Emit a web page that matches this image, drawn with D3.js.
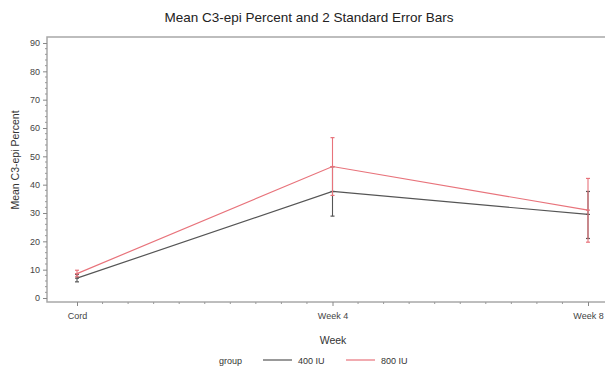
<!DOCTYPE html>
<html>
<head>
<meta charset="utf-8">
<script src="https://cdn.jsdelivr.net/npm/d3@7"></script>
<style>
  body { margin: 0; background: #fff; }
  text { font-family: "Liberation Sans", Arial, sans-serif; }
</style>
</head>
<body>
<div id="chart"></div>
<script>
const weeks = ["Cord", "Week 4", "Week 8"];
const groups = ["400 IU", "800 IU"];
const mean400 = [7.0, 37.6, 29.5];
const lower400 = [5.7, 28.9, 21.0];
const upper400 = [8.3, 46.3, 37.6];
const mean800 = [8.6, 46.4, 31.0];
const lower800 = [7.5, 36.2, 19.7];
const upper800 = [9.8, 56.6, 42.2];
const yTicks = [0, 10, 20, 30, 40, 50, 60, 70, 80, 90];

const colors = { "400 IU": "#555555", "800 IU": "#e8737b" };

const width = 605, height = 366;
const svg = d3.select("#chart")
    .append("svg")
    .attr("width", width)
    .attr("height", height);

const plotLeft = 47, plotTop = 37, plotBottom = 302;

const xScale = d3.scaleLinear().domain([0, 2]).range([77, 588]);
const yScale = d3.scaleLinear().domain([0, 90]).range([298, 43]);

// frame
svg.append("rect")
    .attr("x", plotLeft)
    .attr("y", plotTop)
    .attr("width", 620 - plotLeft)
    .attr("height", plotBottom - plotTop)
    .attr("fill", "none")
    .attr("stroke", "#a8a8a8")
    .attr("stroke-width", 1.5);

// y axis
const yAxis = d3.axisLeft(yScale)
    .tickValues(yTicks)
    .tickSize(4)
    .tickSizeOuter(0);
const yg = svg.append("g")
    .attr("transform", `translate(${plotLeft},0)`)
    .call(yAxis);
yg.select(".domain").remove();
yg.selectAll("line").attr("stroke", "#888");
yg.selectAll("text")
    .attr("font-size", 9)
    .attr("fill", "#444")
    .attr("x", -7);

svg.append("g")
    .selectAll("line")
    .data(d3.range(0, 91, 2).filter(v => v % 10 !== 0))
    .join("line")
    .attr("x1", plotLeft - 2)
    .attr("x2", plotLeft)
    .attr("y1", d => yScale(d))
    .attr("y2", d => yScale(d))
    .attr("stroke", "#999");

// x axis
const xAxis = d3.axisBottom(xScale)
    .tickValues([0, 1, 2])
    .tickFormat(i => weeks[i])
    .tickSize(4)
    .tickSizeOuter(0);
const xg = svg.append("g")
    .attr("transform", `translate(0,${plotBottom})`)
    .call(xAxis);
xg.select(".domain").remove();
xg.selectAll("line").attr("stroke", "#888");
xg.selectAll("text")
    .attr("font-size", 9)
    .attr("fill", "#444")
    .attr("y", 11);

svg.append("g")
    .selectAll("line")
    .data(d3.range(1, 20).filter(v => v % 10 !== 0).map(v => v / 10))
    .join("line")
    .attr("x1", d => xScale(d))
    .attr("x2", d => xScale(d))
    .attr("y1", plotBottom)
    .attr("y2", plotBottom + 2)
    .attr("stroke", "#999");

// series
const series = [
    { name: "400 IU", mean: mean400, lo: lower400, hi: upper400 },
    { name: "800 IU", mean: mean800, lo: lower800, hi: upper800 }
];

const line = d3.line()
    .x((d, i) => xScale(i))
    .y(d => yScale(d));

series.forEach(s => {
    const g = svg.append("g");
    g.append("path")
        .datum(s.mean)
        .attr("d", line)
        .attr("fill", "none")
        .attr("stroke", colors[s.name])
        .attr("stroke-width", 1.2);

    const idx = d3.range(weeks.length);
    g.selectAll(".bar")
        .data(idx)
        .join("line")
        .attr("x1", i => xScale(i))
        .attr("x2", i => xScale(i))
        .attr("y1", i => yScale(s.lo[i]))
        .attr("y2", i => yScale(s.hi[i]))
        .attr("stroke", colors[s.name])
        .attr("stroke-width", 1.1);

    ["lo", "hi", "mean"].forEach(k => {
        g.selectAll(".cap-" + k)
            .data(idx)
            .join("line")
            .attr("x1", i => xScale(i) - 2)
            .attr("x2", i => xScale(i) + 2)
            .attr("y1", i => yScale(s[k][i]))
            .attr("y2", i => yScale(s[k][i]))
            .attr("stroke", colors[s.name])
            .attr("stroke-width", 1.2);
    });
});

// titles
svg.append("text")
    .attr("x", 309)
    .attr("y", 22)
    .attr("text-anchor", "middle")
    .attr("font-size", 13.5)
    .attr("fill", "#222")
    .text("Mean C3-epi Percent and 2 Standard Error Bars");

svg.append("text")
    .attr("x", 333)
    .attr("y", 344)
    .attr("text-anchor", "middle")
    .attr("font-size", 10.5)
    .attr("fill", "#333")
    .text("Week");

svg.append("text")
    .attr("transform", "translate(19,160) rotate(-90)")
    .attr("text-anchor", "middle")
    .attr("font-size", 10.5)
    .attr("fill", "#333")
    .text("Mean C3-epi Percent");

// legend
const legend = svg.append("g").attr("transform", "translate(0,360)");
legend.append("text")
    .attr("x", 219)
    .attr("y", 3.5)
    .attr("font-size", 9)
    .attr("fill", "#333")
    .text("group");
groups.forEach((grp, i) => {
    const x0 = 263 + i * 83;
    legend.append("line")
        .attr("x1", x0)
        .attr("x2", x0 + 29)
        .attr("stroke", colors[grp])
        .attr("stroke-width", 1.2);
    legend.append("text")
        .attr("x", x0 + 35)
        .attr("y", 3.5)
        .attr("font-size", 9)
        .attr("fill", "#333")
        .text(grp);
});
</script>
</body>
</html>
